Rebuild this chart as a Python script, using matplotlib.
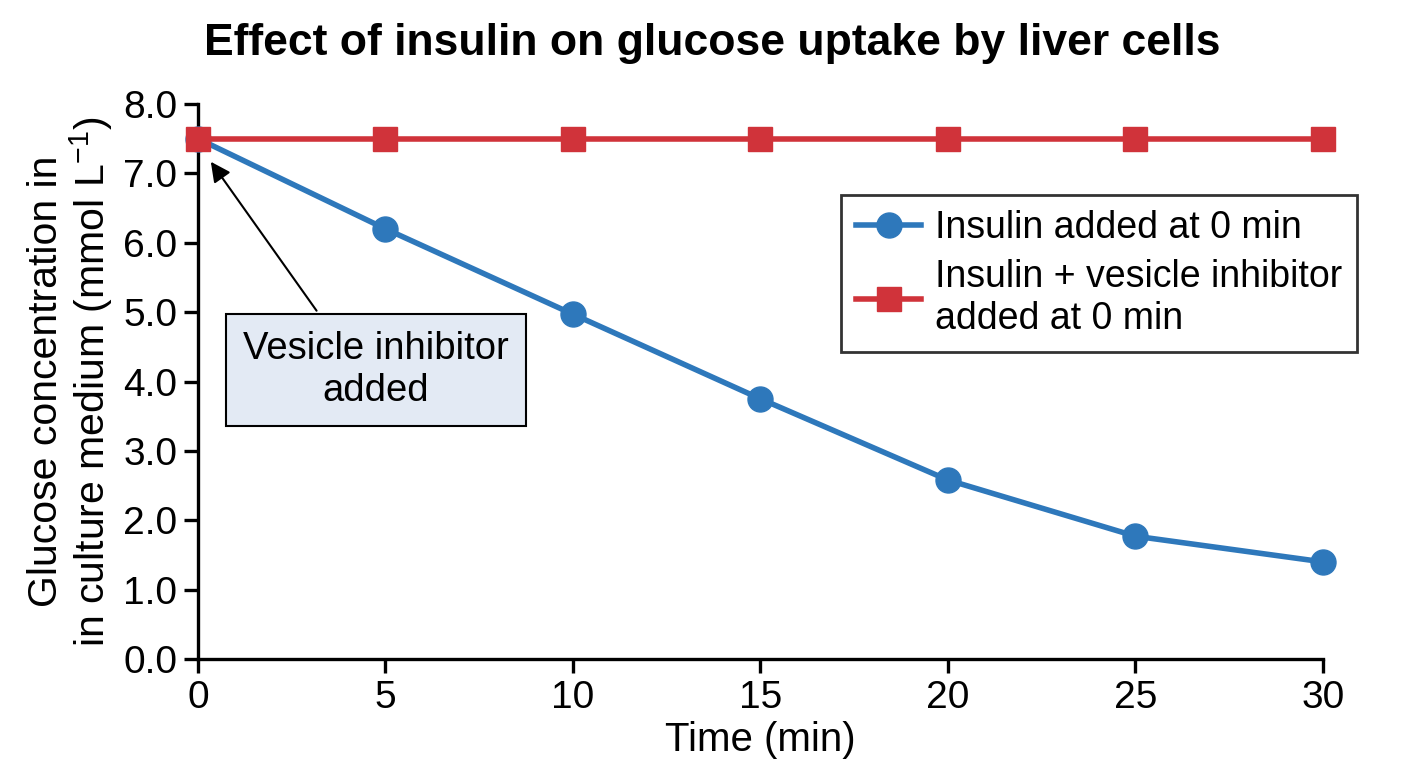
import numpy as np
import matplotlib
matplotlib.use('Agg')
import matplotlib.pyplot as plt

plt.rcParams['font.family'] = ['Liberation Sans', 'DejaVu Sans']
plt.rcParams['mathtext.fontset'] = 'custom'
plt.rcParams['mathtext.rm'] = 'Liberation Sans'

time_min = [0, 5, 10, 15, 20, 25, 30]
insulin = [7.5, 6.2, 4.97, 3.75, 2.58, 1.77, 1.4]
insulin_inhib = [7.5, 7.5, 7.5, 7.5, 7.5, 7.5, 7.5]

blue = '#2e78bb'
red = '#d0333a'

fig = plt.figure(figsize=(14.08, 7.68), dpi=100)
ax = fig.add_axes([0.1406, 0.1419, 0.799, 0.7227])

ax.plot(time_min, insulin, color=blue, lw=4, marker='o', ms=18,
        label='Insulin added at 0 min', clip_on=False, zorder=3)
ax.plot(time_min, insulin_inhib, color=red, lw=4, marker='s', ms=17,
        label='Insulin + vesicle inhibitor\nadded at 0 min', clip_on=False, zorder=4)

ax.set_xlim(0, 30)
ax.set_ylim(0, 8)
ax.set_xticks(time_min)
ax.set_yticks(np.arange(0, 8.1, 1.0))
ax.set_yticklabels(['%.1f' % v for v in np.arange(0, 8.1, 1.0)])
ax.tick_params(labelsize=28, width=2.4, length=10, direction='out', pad=5)
for s in ['top', 'right']:
    ax.spines[s].set_visible(False)
for s in ['left', 'bottom']:
    ax.spines[s].set_linewidth(2.4)

ax.set_xlabel('Time (min)', fontsize=29, labelpad=4)
ax.set_ylabel('Glucose concentration in\nin culture medium (mmol L$^{\\mathregular{-1}}$)',
              fontsize=29.5, labelpad=6, linespacing=1.05)
ax.set_title('Effect of insulin on glucose uptake by liver cells',
             fontsize=32, fontweight='bold', pad=35, x=0.457)

leg = ax.legend(loc='upper right', bbox_to_anchor=(1.030, 0.836), borderaxespad=0,
                fontsize=27, frameon=True, fancybox=False, edgecolor='black',
                handlelength=1.75, borderpad=0.4, labelspacing=0.35, handletextpad=0.35)
leg.get_frame().set_linewidth(2)

ax.annotate('Vesicle inhibitor\nadded', xy=(0.3, 7.2), xytext=(4.75, 4.17),
            fontsize=27.5, ha='center', va='center',
            bbox=dict(boxstyle='square,pad=0.45', fc='#e3eaf4', ec='black', lw=1.5),
            arrowprops=dict(arrowstyle='-|>', color='black', lw=1.5, mutation_scale=30,
                            relpos=(0.33, 1.0)))

fig.savefig('out.png', dpi=100)
